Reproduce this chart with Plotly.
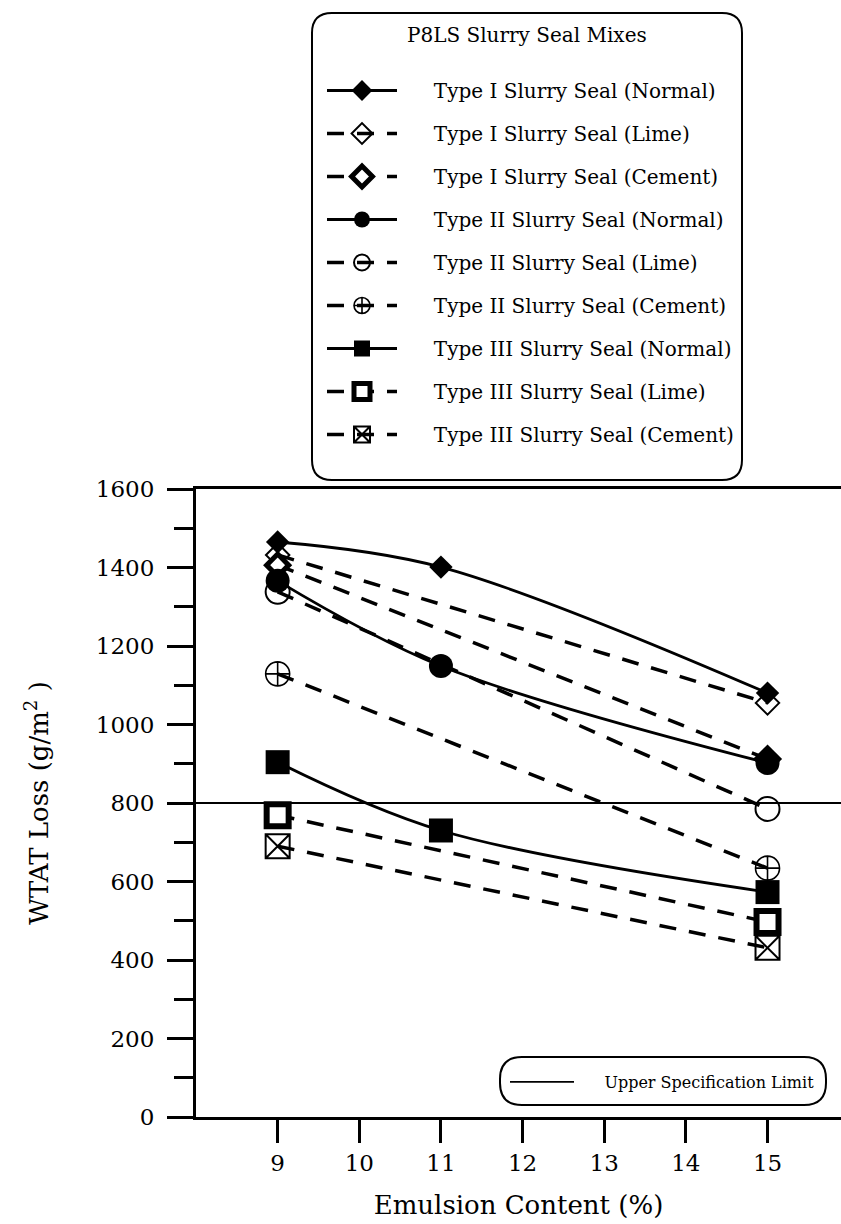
import plotly.graph_objects as go

# ---------------- data ----------------
emulsion_normal = [9, 11, 15]
emulsion_ends = [9, 15]

t1_normal = [1465, 1401, 1080]
t1_lime = [1432, 1055]
t1_cement = [1406, 912]

t2_normal = [1366, 1149, 902]
t2_lime = [1338, 785]
t2_cement = [1129, 634]

t3_normal = [904, 730, 573]
t3_lime = [769, 497]
t3_cement = [690, 431]

spec_limit = 800

x_ticks = [9, 10, 11, 12, 13, 14, 15]
y_ticks = [0, 200, 400, 600, 800, 1000, 1200, 1400, 1600]
x_range = [8.0, 15.9]
y_range = [0, 1600]

names = [
    "Type I Slurry Seal (Normal)",
    "Type I Slurry Seal (Lime)",
    "Type I Slurry Seal (Cement)",
    "Type II Slurry Seal (Normal)",
    "Type II Slurry Seal (Lime)",
    "Type II Slurry Seal (Cement)",
    "Type III Slurry Seal (Normal)",
    "Type III Slurry Seal (Lime)",
    "Type III Slurry Seal (Cement)",
]
legend_title = "P8LS Slurry Seal Mixes"
spec_name = "Upper Specification Limit"

# ---------------- layout geometry ----------------
W, H = 841, 1224
ML, MR, MT, MB = 196, 0, 489, 107
PW, PH = W - ML - MR, H - MT - MB
FONT = "DejaVu Serif"
NB = "\u00a0"


def pp(px, py):
    return (px - ML) / PW, (H - MB - py) / PH


def rounded_box(x0, y0, x1, y1, r):
    def P(x, y):
        a, b = pp(x, y)
        return f"{a:.5f},{b:.5f}"
    return (f"M{P(x0 + r, y0)} L{P(x1 - r, y0)} Q{P(x1, y0)} {P(x1, y0 + r)} "
            f"L{P(x1, y1 - r)} Q{P(x1, y1)} {P(x1 - r, y1)} "
            f"L{P(x0 + r, y1)} Q{P(x0, y1)} {P(x0, y1 - r)} "
            f"L{P(x0, y0 + r)} Q{P(x0, y0)} {P(x0 + r, y0)} Z")


fig = go.Figure()

dash = "17px,13px"
solid_w = 2.8
dash_w = 3.5

series = [
    (emulsion_normal, t1_normal, dict(symbol="diamond", size=18, color="black"), dict(color="black", width=solid_w, shape="spline")),
    (emulsion_ends, t1_lime, dict(symbol="diamond-open", size=18, color="black", line=dict(width=2)), dict(color="black", width=dash_w, dash=dash)),
    (emulsion_ends, t1_cement, dict(symbol="diamond", size=17, color="white", line=dict(color="black", width=5)), dict(color="black", width=dash_w, dash=dash)),
    (emulsion_normal, t2_normal, dict(symbol="circle", size=24, color="black"), dict(color="black", width=solid_w, shape="spline")),
    (emulsion_ends, t2_lime, dict(symbol="circle-open", size=24, color="black", line=dict(width=2)), dict(color="black", width=dash_w, dash=dash)),
    (emulsion_ends, t2_cement, dict(symbol="circle-cross-open", size=24, color="black", line=dict(width=1.6)), dict(color="black", width=dash_w, dash=dash)),
    (emulsion_normal, t3_normal, dict(symbol="square", size=24, color="black"), dict(color="black", width=solid_w, shape="spline")),
    (emulsion_ends, t3_lime, dict(symbol="square", size=22, color="white", line=dict(color="black", width=6)), dict(color="black", width=dash_w, dash=dash)),
    (emulsion_ends, t3_cement, dict(symbol="square-x-open", size=24, color="black", line=dict(width=2)), dict(color="black", width=dash_w, dash=dash)),
]

# spec limit line
fig.add_trace(go.Scatter(
    x=x_range, y=[spec_limit, spec_limit], mode="lines",
    line=dict(color="black", width=1.8), name=NB * 5 + spec_name,
    legend="legend2", showlegend=True, hoverinfo="skip"))

for i, (xs, ys, mk, ln) in enumerate(series):
    fig.add_trace(go.Scatter(
        x=xs, y=ys, mode="lines+markers", name=NB * 5 + names[i],
        marker=mk, line=ln, legendgroup=f"g{i}", legend="legend",
        cliponaxis=False))

fig.update_layout(
    width=W, height=H,
    margin=dict(l=ML, r=MR, t=MT, b=MB),
    paper_bgcolor="white", plot_bgcolor="white",
    font=dict(family=FONT, color="black"),
    showlegend=True,
    legend=dict(
        x=pp(322, 0)[0], y=pp(0, 71)[1], xanchor="left", yanchor="top",
        bgcolor="rgba(0,0,0,0)", borderwidth=0,
        font=dict(family=FONT, size=20, color="black"),
        itemwidth=70, traceorder="grouped", tracegroupgap=14,
    ),
    legend2=dict(
        x=pp(505, 0)[0], y=pp(0, 1065)[1], xanchor="left", yanchor="top",
        bgcolor="rgba(0,0,0,0)", borderwidth=0,
        font=dict(family=FONT, size=16, color="black"),
        itemwidth=64,
    ),
    annotations=[
        dict(text=legend_title, xref="paper", yref="paper",
             x=pp(527, 0)[0], y=pp(0, 35)[1], xanchor="center", yanchor="middle",
             showarrow=False, font=dict(family=FONT, size=20, color="black")),
    ],
    xaxis=dict(
        range=x_range, tickvals=x_ticks, ticktext=[str(v) for v in x_ticks],
        showline=True, linecolor="black", linewidth=3, mirror=True,
        ticks="outside", ticklen=23, tickwidth=3, tickcolor="black",
        showgrid=False, zeroline=False,
        tickfont=dict(family=FONT, size=23, color="black"),
        title=dict(text="Emulsion Content (%)", standoff=22,
                   font=dict(family=FONT, size=26, color="black")),
    ),
    yaxis=dict(
        range=y_range, tickvals=y_ticks,
        showline=True, linecolor="black", linewidth=3,
        ticks="outside", ticklen=26, tickwidth=3, tickcolor="black",
        minor=dict(dtick=100, ticks="outside", ticklen=19, tickwidth=3, tickcolor="black"),
        showgrid=False, zeroline=False,
        tickfont=dict(family=FONT, size=23, color="black"),
        ticklabelstandoff=8,
        title=dict(text="WTAT Loss (g/m<sup>2</sup> )", standoff=40,
                   font=dict(family=FONT, size=26, color="black")),
    ),
    shapes=[
        dict(type="path", xref="paper", yref="paper",
             path=rounded_box(312, 13, 742, 480, 20),
             line=dict(color="black", width=2), fillcolor="rgba(0,0,0,0)"),
        dict(type="path", xref="paper", yref="paper",
             path=rounded_box(500, 1057, 826, 1105, 22),
             line=dict(color="black", width=2), fillcolor="rgba(0,0,0,0)"),
    ],
)

fig.write_html("out.html", config={"displayModeBar": False},
               post_script="document.body.style.margin='0';document.body.style.overflow='hidden';")
